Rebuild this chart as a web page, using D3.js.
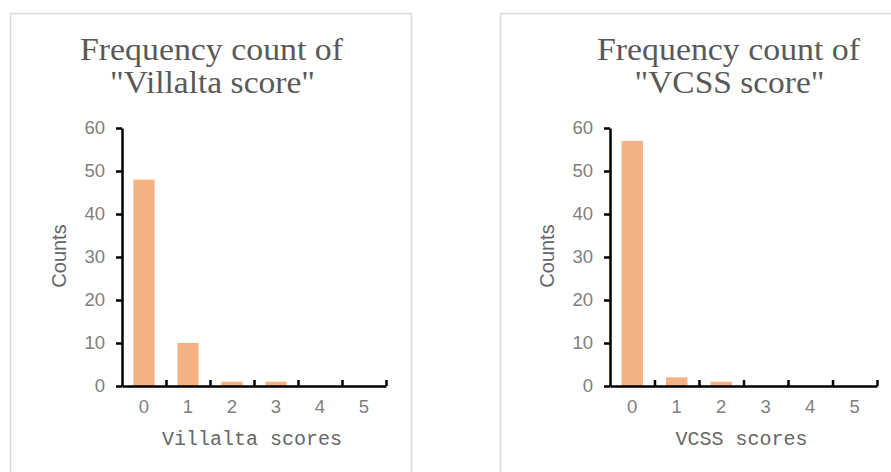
<!DOCTYPE html>
<html>
<head>
<meta charset="utf-8">
<script src="https://cdn.jsdelivr.net/npm/d3@7"></script>
<style>
  body { margin: 0; background: #fff; }
</style>
</head>
<body>
<div id="canvas"></div>
<script>
const scores = ["0", "1", "2", "3", "4", "5"];
const villaltaCounts = [48, 10, 1, 1, 0, 0];
const vcssCounts = [57, 2, 1, 0, 0, 0];
const yTicks = [0, 10, 20, 30, 40, 50, 60];

const svg = d3.select("#canvas").append("svg")
    .attr("width", 891)
    .attr("height", 472);

function drawPanel(p) {
    // panel border
    svg.append("rect")
        .attr("x", p.boxX).attr("y", 13.5)
        .attr("width", p.boxW).attr("height", 480)
        .attr("fill", "none")
        .attr("stroke", "#d9d9d9")
        .attr("stroke-width", 1.5);

    const iwidth = p.axisW;
    const iheight = 258;
    const g = svg.append("g").attr("transform", `translate(${p.left},128)`);

    const y = d3.scaleLinear().domain([0, 60]).range([iheight, 0]);
    const x = d3.scaleBand().domain(scores)
        .range([0, iwidth])
        .paddingInner(0.52)
        .paddingOuter(0.26);
    const xb = d3.scaleLinear().domain([0, scores.length]).range([0, iwidth]);

    g.selectAll("rect.bar").data(scores.map((s, i) => ({ s, v: p.values[i] })))
        .enter().append("rect")
        .attr("class", "bar")
        .style("fill", "#f4b183")
        .attr("x", d => x(d.s))
        .attr("y", d => y(d.v))
        .attr("width", x.bandwidth())
        .attr("height", d => y(0) - y(d.v));

    // y axis
    const ya = g.append("g")
        .call(d3.axisLeft(y).tickValues(yTicks).tickSize(6).tickSizeOuter(0).tickPadding(11));
    ya.selectAll("path, line").attr("stroke", "#000").attr("stroke-width", 2.5);
    ya.selectAll("text")
        .style("font-family", "Liberation Sans, Arial, sans-serif")
        .style("font-size", "18.5px")
        .attr("fill", "#7f7f7f");

    // x axis: category labels
    const xa = g.append("g")
        .attr("transform", `translate(0,${iheight})`)
        .call(d3.axisBottom(x).tickSize(0).tickPadding(14));
    xa.select(".domain").remove();
    xa.selectAll("text")
        .style("font-family", "Liberation Sans, Arial, sans-serif")
        .style("font-size", "18.5px")
        .attr("fill", "#7f7f7f");

    // x axis: line with boundary ticks
    const xl = g.append("g")
        .attr("transform", `translate(0,${iheight})`)
        .call(d3.axisBottom(xb).tickValues(d3.range(1, scores.length + 1)).tickSize(-6).tickSizeOuter(0).tickFormat(""));
    xl.selectAll("path, line").attr("stroke", "#000").attr("stroke-width", 2.5);

    // title
    svg.append("text")
        .attr("x", p.titleX).attr("y", 60)
        .attr("text-anchor", "middle")
        .attr("textLength", 263)
        .attr("lengthAdjust", "spacingAndGlyphs")
        .style("font-family", "Liberation Serif, Times New Roman, serif")
        .style("font-size", "31px")
        .attr("fill", "#595959")
        .text("Frequency count of");
    svg.append("text")
        .attr("x", p.titleX + 1).attr("y", 93)
        .attr("text-anchor", "middle")
        .attr("textLength", p.title2W)
        .attr("lengthAdjust", "spacingAndGlyphs")
        .style("font-family", "Liberation Serif, Times New Roman, serif")
        .style("font-size", "31px")
        .attr("fill", "#595959")
        .text(p.title2);

    // y label
    svg.append("text")
        .attr("transform", `translate(${p.left - 56},256) rotate(-90)`)
        .attr("text-anchor", "middle")
        .style("font-family", "Liberation Sans, Arial, sans-serif")
        .style("font-size", "20px")
        .attr("fill", "#666")
        .text("Counts");

    // x label
    svg.append("text")
        .attr("x", p.left + iwidth / 2 - 2).attr("y", 445)
        .attr("text-anchor", "middle")
        .style("font-family", "Liberation Mono, Courier New, monospace")
        .style("font-size", "20px")
        .attr("fill", "#666")
        .text(p.xlabel);
}

drawPanel({
    boxX: 10.5, boxW: 401, left: 122, axisW: 264,
    titleX: 211.5, title2: "\"Villalta score\"", title2W: 205,
    values: villaltaCounts, xlabel: "Villalta scores"
});

drawPanel({
    boxX: 500.5, boxW: 420, left: 610, axisW: 267,
    titleX: 728.5, title2: "\"VCSS score\"", title2W: 190,
    values: vcssCounts, xlabel: "VCSS scores"
});
</script>
</body>
</html>
